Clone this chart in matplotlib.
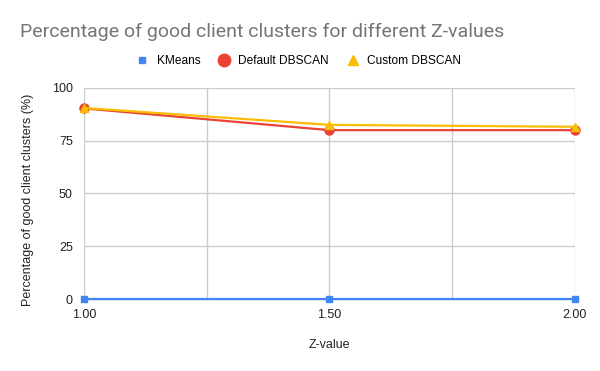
import matplotlib
matplotlib.use("Agg")
import matplotlib.pyplot as plt
from matplotlib.ticker import MultipleLocator, FormatStrFormatter

plt.rcParams['font.family'] = ['Liberation Sans', 'DejaVu Sans']

z_values = [1.00, 1.50, 2.00]
kmeans = [0, 0, 0]
default_dbscan = [90.3, 80.0, 80.0]
custom_dbscan = [90.5, 82.5, 81.6]

fig = plt.figure(figsize=(6, 3.71), dpi=100)
ax = fig.add_axes([0.14, 0.194, 0.818, 0.569])

ax.plot(z_values, kmeans, color='#4285F4', lw=1.6, marker='s', ms=4, label='KMeans', zorder=3, clip_on=False)
ax.plot(z_values, default_dbscan, color='#EA4335', lw=1.6, marker='o', ms=6.5, label='Default DBSCAN', zorder=4, clip_on=False)
ax.plot(z_values, custom_dbscan, color='#FBBC04', lw=1.6, marker='^', ms=6, label='Custom DBSCAN', zorder=5, clip_on=False)

ax.set_xlim(1.0, 2.0)
ax.set_ylim(0, 100)
ax.xaxis.set_major_locator(MultipleLocator(0.5))
ax.xaxis.set_minor_locator(MultipleLocator(0.25))
ax.xaxis.set_major_formatter(FormatStrFormatter('%.2f'))
ax.yaxis.set_major_locator(MultipleLocator(25))
ax.grid(True, which='both', axis='x', color='#cccccc', lw=1)
ax.grid(True, which='major', axis='y', color='#cccccc', lw=1)
ax.set_axisbelow(True)
for s in ['top', 'right', 'left']:
    ax.spines[s].set_visible(False)
ax.spines['bottom'].set_color('#333333')
ax.tick_params(axis='both', which='both', length=0, labelsize=9, colors='#222222', pad=8)
ax.tick_params(axis='x', pad=7)

ax.set_xlabel('Z-value', fontsize=9, color='#222222')
ax.xaxis.set_label_coords(0.5, -(339 - 299) / 211)
ax.set_ylabel('Percentage of good client clusters (%)', fontsize=9, color='#222222')
ax.yaxis.set_label_coords(-(84 - 34) / 491, (299 - 200) / 211)

fig.text(20/600, 1-32/371, 'Percentage of good client clusters for different Z-values',
         fontsize=14, color='#757575', ha='left', va='center', family=['Roboto', 'DejaVu Sans'])

leg = fig.legend(loc='center', bbox_to_anchor=(0.498, 1-61/371), ncol=3, frameon=False,
                 prop={'size': 8.6}, handlelength=1.0, columnspacing=1.5, handletextpad=0.7)
for h, ms in zip(leg.legend_handles, [5, 9, 7]):
    h.set_linestyle('')
    h.set_markersize(ms)

fig.savefig('out.png', dpi=100)
